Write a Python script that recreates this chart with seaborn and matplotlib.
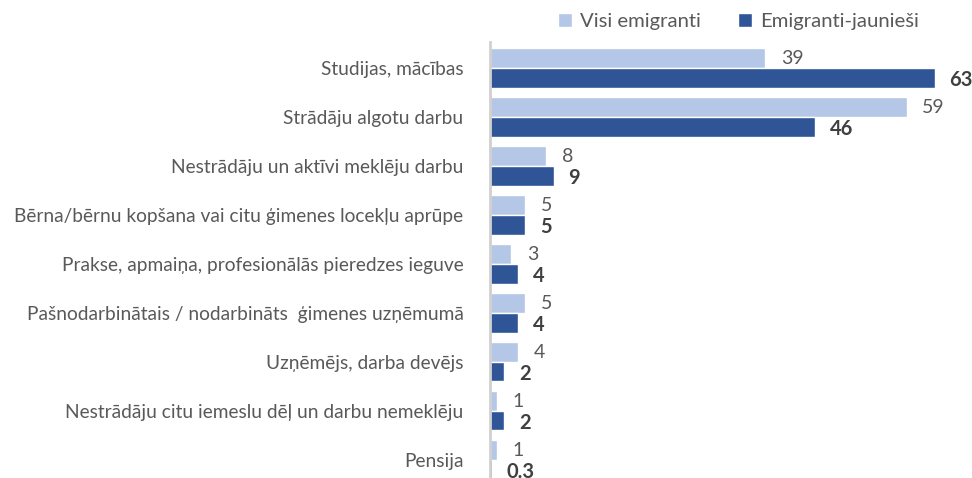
"""
Emigrantu nodarbošanās - horizontālās joslas
"""
import matplotlib
matplotlib.use("Agg")
import matplotlib.pyplot as plt
from matplotlib.patches import Patch
import seaborn as sns
import pandas as pd

categories = [
    "Studijas, mācības",
    "Strādāju algotu darbu",
    "Nestrādāju un aktīvi meklēju darbu",
    "Bērna/bērnu kopšana vai citu ģimenes locekļu aprūpe",
    "Prakse, apmaiņa, profesionālās pieredzes ieguve",
    "Pašnodarbinātais / nodarbināts  ģimenes uzņēmumā",
    "Uzņēmējs, darba devējs",
    "Nestrādāju citu iemeslu dēļ un darbu nemeklēju",
    "Pensija",
]
series = ["Visi emigranti", "Emigranti-jaunieši"]
visi = [39, 59, 8, 5, 3, 5, 4, 1, 1]
jaunie = [63, 46, 9, 5, 4, 4, 2, 2, 0.3]

colors = {"Visi emigranti": "#B4C7E7", "Emigranti-jaunieši": "#2F5597"}

df = pd.DataFrame({
    "kat": categories * 2,
    "grupa": [series[0]] * len(categories) + [series[1]] * len(categories),
    "val": visi + jaunie,
})

sns.set_style("white")
plt.rcParams['font.family'] = ['Lato', 'DejaVu Sans']

fig = plt.figure(figsize=(9.72, 4.78), dpi=100)
ax = fig.add_axes([490 / 972, 0.0, 470 / 972, 1 - 42 / 478])

sns.barplot(data=df, y="kat", x="val", hue="grupa", order=categories,
            hue_order=series, palette=colors, orient="h", width=0.8,
            saturation=1, ax=ax, legend=False)

ax.set_xlim(0, 470 / 7.06)
ax.set_ylim(8.37, -0.53)
ax.set_xlabel("")
ax.set_ylabel("")
ax.set_xticks([])
ax.tick_params(axis="y", length=0, pad=19, labelsize=13.8, labelcolor="#595959")

for side in ["top", "right", "bottom"]:
    ax.spines[side].set_visible(False)
ax.spines["left"].set_color("#d0d0d0")
ax.spines["left"].set_linewidth(2)

# value labels
for cont, grp in zip(ax.containers, series):
    for bar in cont:
        w = bar.get_width()
        txt = f"{w:g}"
        y = bar.get_y() + bar.get_height() / 2
        if grp == series[0]:
            ax.text(w + 2.2, y, txt, va="center", ha="left", fontsize=14,
                    color="#595959", clip_on=False)
        else:
            ax.text(w + 2.1, y + 0.05, txt, va="center", ha="left", fontsize=14.5,
                    color="#404040", fontweight="bold", clip_on=False)

handles = [Patch(facecolor=colors[s], label=s) for s in series]
fig.legend(handles=handles, loc="center right", bbox_to_anchor=(0.964, 0.955),
           ncol=2, frameon=False, handlelength=0.7,
           handleheight=0.7, handletextpad=0.4, columnspacing=1.8,
           labelcolor="#595959", prop={"size": 14.6})

fig.savefig("out.png", dpi=100)
